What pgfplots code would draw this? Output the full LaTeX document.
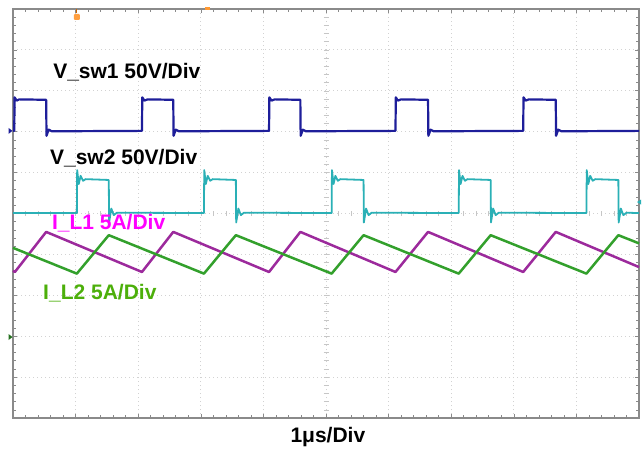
\documentclass[border=0pt]{standalone}
\usepackage{pgfplots}
\pgfplotsset{compat=1.18}
\usepackage{fontspec}
\setmainfont{Liberation Sans}
\definecolor{sw1}{HTML}{1E1E9A}
\definecolor{sw2}{HTML}{2AB0B6}
\definecolor{il1}{HTML}{9C2A9C}
\definecolor{il2}{HTML}{33A02C}
\definecolor{lab1}{HTML}{FF00FF}
\definecolor{lab2}{HTML}{4CAF0A}
\definecolor{frame}{HTML}{8A8A8A}
\begin{document}
\begin{tikzpicture}
\useasboundingbox (-13pt,-34pt) rectangle (631pt,418pt);
\begin{axis}[
  scale only axis, width=626pt, height=409pt,
  xmin=0, xmax=10, ymin=0, ymax=10,
  xtick={0,...,10}, ytick={0,...,10},
  minor tick num=4,
  xticklabels={}, yticklabels={},
  tick align=inside,
  major tick length=4pt, minor tick length=3pt,
  tick style={frame, line width=0.6pt},
  grid=major,
  major grid style={gray!35, line width=0.8pt, dash pattern=on 0.8pt off 3.2pt},
  axis line style={frame, line width=1.2pt},
  clip=false,
]
% center-line ticks
\pgfplotsinvokeforeach{0.2,0.4,...,9.81}{
  \draw[gray!45, line width=0.6pt] (axis cs:4.96,#1) -- (axis cs:5.04,#1);
  \draw[gray!45, line width=0.6pt] (axis cs:#1,4.94) -- (axis cs:#1,5.06);
}
% V_sw1
\addplot[sw1, line width=2.2pt, line join=round] coordinates {
(0,7.02)(0.02,7.02)(0.025,7.84)(0.06,7.76)(0.10,7.79)(0.53,7.78)(0.535,6.90)(0.57,7.05)(0.62,7.01)
(2.06,7.02)(2.065,7.84)(2.10,7.76)(2.15,7.79)(2.56,7.78)(2.565,6.90)(2.60,7.05)(2.65,7.01)
(4.09,7.02)(4.095,7.84)(4.13,7.76)(4.18,7.79)(4.59,7.78)(4.595,6.90)(4.63,7.05)(4.68,7.01)
(6.11,7.02)(6.115,7.84)(6.15,7.76)(6.20,7.79)(6.63,7.78)(6.635,6.90)(6.67,7.05)(6.72,7.01)
(8.15,7.02)(8.155,7.84)(8.19,7.76)(8.24,7.79)(8.67,7.78)(8.675,6.90)(8.71,7.05)(8.76,7.01)
(10,7.02)};
% V_sw2
\addplot[sw2, line width=1.8pt, line join=round] coordinates {
(0,5.01)(1.02,5.01)(1.025,6.06)(1.05,5.72)(1.08,5.92)(1.12,5.80)(1.16,5.84)(1.53,5.82)(1.535,4.78)(1.57,5.12)(1.61,4.96)(1.66,5.02)
(3.05,5.01)(3.055,6.06)(3.08,5.72)(3.11,5.92)(3.15,5.80)(3.19,5.84)(3.56,5.82)(3.565,4.78)(3.60,5.12)(3.64,4.96)(3.69,5.02)
(5.09,5.01)(5.095,6.06)(5.12,5.72)(5.15,5.92)(5.19,5.80)(5.23,5.84)(5.60,5.82)(5.605,4.78)(5.64,5.12)(5.68,4.96)(5.73,5.02)
(7.12,5.01)(7.125,6.06)(7.15,5.72)(7.18,5.92)(7.22,5.80)(7.26,5.84)(7.63,5.82)(7.635,4.78)(7.67,5.12)(7.71,4.96)(7.76,5.02)
(9.16,5.01)(9.165,6.06)(9.19,5.72)(9.22,5.92)(9.26,5.80)(9.30,5.84)(9.67,5.82)(9.675,4.78)(9.71,5.12)(9.75,4.96)(9.80,5.02)
(10,5.01)};
% I_L1
\addplot[il1, line width=2.5pt, line join=round] coordinates {
(0,3.60)(0.03,3.57)(0.53,4.55)(2.06,3.57)(2.56,4.55)(4.09,3.57)(4.59,4.55)
(6.11,3.57)(6.63,4.55)(8.15,3.57)(8.67,4.55)(10,3.69)};
% I_L2
\addplot[il2, line width=2.5pt, line join=round] coordinates {
(0,4.16)(1.02,3.53)(1.53,4.47)(3.05,3.53)(3.56,4.47)(5.09,3.53)(5.60,4.47)
(7.12,3.53)(7.63,4.47)(9.16,3.53)(9.67,4.47)(10,4.27)};
% labels
\tikzset{lbl/.style={anchor=base west, inner sep=0pt, font=\bfseries\fontsize{21}{24}\selectfont}}
\node[lbl] at (axis cs:0.64,8.31) {V\_sw1 50V/Div};
\node[lbl] at (axis cs:0.59,6.19) {V\_sw2 50V/Div};
\node[lbl, text=lab1] at (axis cs:0.62,4.60) {I\_L1 5A/Div};
\node[lbl, text=lab2] at (axis cs:0.48,2.89) {I\_L2 5A/Div};
\node[lbl, anchor=base] at (axis cs:5.03,-0.61) {1μs/Div};
% channel markers
\fill[sw1] (axis cs:0,7.02) ++(-0.5pt,0) -- ++(-4pt,3pt) -- ++(0,-6pt) -- cycle;
\fill[il2!70!black] (axis cs:0,1.98) ++(-0.5pt,0) -- ++(-4pt,3pt) -- ++(0,-6pt) -- cycle;
\fill[sw2] (axis cs:10,5.28) ++(-2pt,0) -- ++(4pt,2.5pt) -- ++(0,-5pt) -- cycle;
% trigger markers
\draw[orange!80!black, line width=0.8pt] (axis cs:1.02,10) -- ++(0,-4pt);
\fill[orange!75, rounded corners=1pt] (axis cs:1.02,10) ++(-3pt,-5pt) rectangle ++(6pt,-6pt);
\fill[orange!80] (axis cs:3.1,10) ++(-2.5pt,-1.5pt) rectangle ++(5pt,3pt);
\end{axis}
\end{tikzpicture}
\end{document}
